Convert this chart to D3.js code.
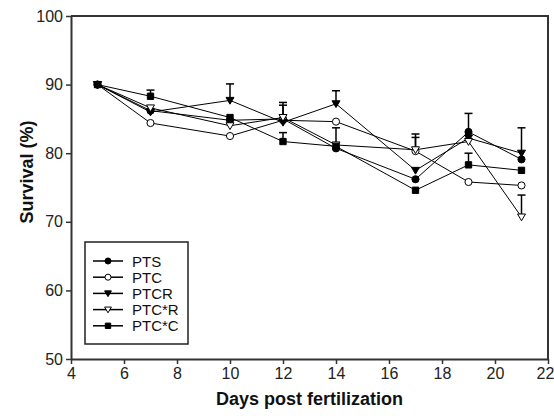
<!DOCTYPE html>
<html>
<head>
<meta charset="utf-8">
<script src="https://cdn.jsdelivr.net/npm/d3@7"></script>
<style>
  body { margin: 0; background: #fff; }
  svg { display: block; font-family: "Liberation Sans", Arial, sans-serif; }
</style>
</head>
<body>
<svg id="chart" width="554" height="416"></svg>
<script>
// Survival by days post fertilization
var days = [5, 7, 10, 12, 14, 17, 19, 21];
var seriesNames = ['PTS', 'PTC', 'PTCR', 'PTC*R', 'PTC*C'];
var ptsValues   = [90, 86.2, 84.8, 85.0, 80.7, 76.2, 83.1, 79.1];
var ptcValues   = [90, 84.4, 82.5, 84.8, 84.6, 80.3, 75.8, 75.3];
var ptcrValues  = [90, 86.0, 87.7, 84.5, 87.2, 77.5, 82.2, 80.0];
var ptcsrValues = [90, 86.6, 84.0, 85.2, 81.2, 80.5, 81.7, 70.7];
var ptcscValues = [90, 88.3, 85.2, 81.7, 81.0, 74.6, 78.3, 77.5];
// upper error bars
var ptsErr   = [0, 0, 0, 2.0, 0, 0, 2.7, 0];
var ptcErr   = [0, 0, 0, 0, 0, 2.0, 0, 0];
var ptcrErr  = [0, 0.5, 2.4, 0, 1.9, 0, 0, 3.7];
var ptcsrErr = [0, 0, 0, 2.2, 2.5, 2.3, 0, 3.2];
var ptcscErr = [0, 0.9, 0, 1.3, 0, 0, 1.7, 0];
var xTicks = [4, 6, 8, 10, 12, 14, 16, 18, 20, 22];
var yTicks = [50, 60, 70, 80, 90, 100];

(function () {
  'use strict';

  var svg = d3.select('#chart');
  var m = { left: 71, top: 16, right: 548, bottom: 359 };

  var x = d3.scaleLinear().domain([4, 22]).range([m.left, m.right]);
  var y = d3.scaleLinear().domain([50, 100]).range([m.bottom, m.top]);

  var values = [ptsValues, ptcValues, ptcrValues, ptcsrValues, ptcscValues];
  var errs = [ptsErr, ptcErr, ptcrErr, ptcsrErr, ptcscErr];
  var markers = [
    { shape: d3.symbolCircle, fill: '#000', size: 40 },
    { shape: d3.symbolCircle, fill: '#fff', size: 40 },
    { shape: 'tri', fill: '#000', size: 8 },
    { shape: 'tri', fill: '#fff', size: 8 },
    { shape: d3.symbolSquare, fill: '#000', size: 40 }
  ];

  function markerPath(mk, scale) {
    scale = scale || 1;
    if (mk.shape === 'tri') {
      var s = mk.size * scale / 2;
      return 'M' + (-s) + ',' + (-s * 0.75) + 'L' + s + ',' + (-s * 0.75) + 'L0,' + (s * 0.95) + 'Z';
    }
    return d3.symbol().type(mk.shape).size(mk.size * scale * scale)();
  }

  // frame (top and right)
  svg.append('path')
    .attr('d', 'M' + m.left + ',' + m.top + 'H' + m.right + 'V' + m.bottom)
    .attr('fill', 'none')
    .attr('stroke', '#333')
    .attr('stroke-width', 2);

  // axes
  var xAxis = svg.append('g')
    .attr('transform', 'translate(0,' + m.bottom + ')')
    .call(d3.axisBottom(x).tickValues(xTicks).tickSize(5).tickSizeOuter(0).tickPadding(4));
  var yAxis = svg.append('g')
    .attr('transform', 'translate(' + m.left + ',0)')
    .call(d3.axisLeft(y).tickValues(yTicks).tickSize(5).tickSizeOuter(0).tickPadding(3));

  [xAxis, yAxis].forEach(function (ax) {
    ax.select('.domain').attr('stroke', '#333').attr('stroke-width', 2);
    ax.selectAll('.tick line').attr('stroke', '#333').attr('stroke-width', 1.5);
    ax.selectAll('.tick text').style('font-size', '16px').attr('fill', '#222');
  });
  // keep the last x label inside the window
  xAxis.selectAll('.tick text')
    .filter(function (d) { return d === 22; })
    .attr('dx', '-3px');

  // axis titles
  svg.append('text')
    .attr('x', (m.left + m.right) / 2)
    .attr('y', 405)
    .attr('text-anchor', 'middle')
    .style('font-size', '18px')
    .style('font-weight', 'bold')
    .attr('fill', '#111')
    .text('Days post fertilization');

  svg.append('text')
    .attr('transform', 'translate(33,172) rotate(-90)')
    .attr('text-anchor', 'middle')
    .style('font-size', '18px')
    .style('font-weight', 'bold')
    .attr('fill', '#111')
    .text('Survival (%)');

  var line = d3.line()
    .x(function (d, i) { return x(days[i]); })
    .y(function (d) { return y(d); });

  values.forEach(function (vals) {
    svg.append('path')
      .attr('d', line(vals))
      .attr('fill', 'none')
      .attr('stroke', '#000')
      .attr('stroke-width', 1);
  });

  // error bars (upper)
  values.forEach(function (vals, si) {
    vals.forEach(function (v, i) {
      var e = errs[si][i];
      if (!e) return;
      var cx = x(days[i]);
      svg.append('line')
        .attr('x1', cx).attr('x2', cx)
        .attr('y1', y(v)).attr('y2', y(v + e))
        .attr('stroke', '#000').attr('stroke-width', 1.5);
      svg.append('line')
        .attr('x1', cx - 4).attr('x2', cx + 4)
        .attr('y1', y(v + e)).attr('y2', y(v + e))
        .attr('stroke', '#000').attr('stroke-width', 1.5);
    });
  });

  // markers
  values.forEach(function (vals, si) {
    var mk = markers[si];
    svg.selectAll('.mk' + si)
      .data(vals)
      .enter()
      .append('path')
      .attr('transform', function (d, i) { return 'translate(' + x(days[i]) + ',' + y(d) + ')'; })
      .attr('d', markerPath(mk))
      .attr('fill', mk.fill)
      .attr('stroke', '#000')
      .attr('stroke-width', 1);
  });

  // legend
  var lg = svg.append('g').attr('transform', 'translate(85,242)');
  lg.append('rect')
    .attr('width', 103).attr('height', 102)
    .attr('fill', '#fff')
    .attr('stroke', '#222')
    .attr('stroke-width', 1.5);
  seriesNames.forEach(function (name, i) {
    var ly = 19 + i * 16.2;
    lg.append('line')
      .attr('x1', 8).attr('x2', 38)
      .attr('y1', ly).attr('y2', ly)
      .attr('stroke', '#000').attr('stroke-width', 1.5);
    lg.append('path')
      .attr('transform', 'translate(23,' + ly + ')')
      .attr('d', markerPath(markers[i], 0.85))
      .attr('fill', markers[i].fill)
      .attr('stroke', '#000');
    lg.append('text')
      .attr('x', 47).attr('y', ly + 5.5)
      .style('font-size', '15px')
      .attr('fill', '#111')
      .text(name);
  });
})();
</script>
</body>
</html>
